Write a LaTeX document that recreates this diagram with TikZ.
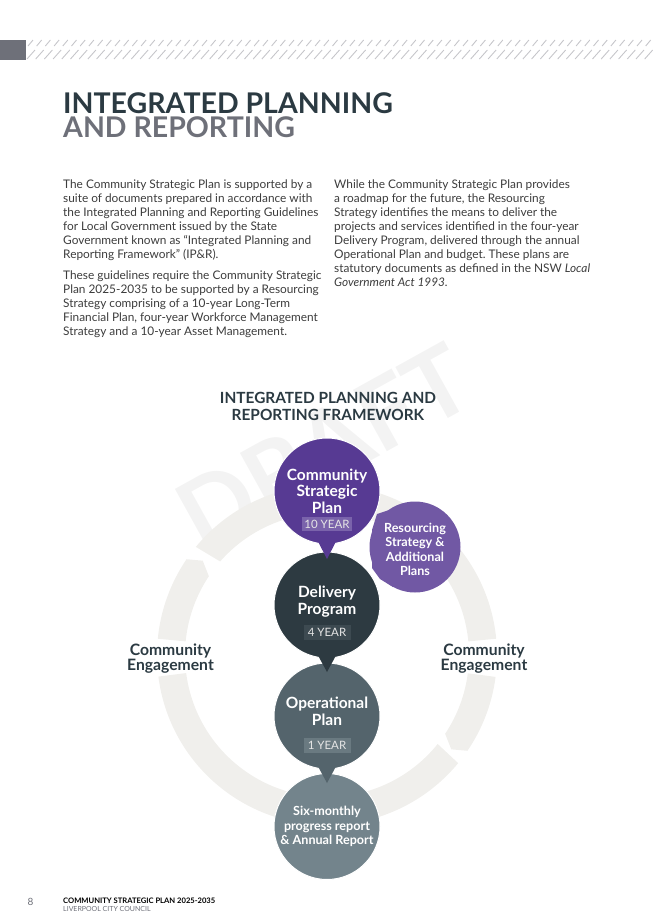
\documentclass[tikz,border=0pt]{standalone}
\usepackage{fontspec}
\setmainfont{Lato}
\frenchspacing
\usetikzlibrary{calc}
\definecolor{inkdark}{HTML}{2B3A42}
\definecolor{inkgrey}{HTML}{6E7079}
\definecolor{bodyink}{HTML}{3C3C3C}
\definecolor{ringc}{HTML}{F0EFEC}
\definecolor{wmark}{HTML}{F3F3F3}
\definecolor{stripec}{HTML}{C6C6CA}
\definecolor{cspc}{HTML}{573A93}
\definecolor{cspt}{HTML}{7A63AB}
\definecolor{resc}{HTML}{7158A4}
\definecolor{delc}{HTML}{2D3A41}
\definecolor{delt}{HTML}{3D4A51}
\definecolor{opc}{HTML}{54646C}
\definecolor{opt}{HTML}{6A7A81}
\definecolor{sixc}{HTML}{73848C}
\tikzset{
  bubble/.style={circle,minimum size=106pt,inner sep=0pt,draw=white,line width=1pt},
  bubbletext/.style={text=white,align=center,font=\fontsize{15.5}{16.6}\selectfont\bfseries,inner sep=0pt},
  smalltext/.style={text=white,align=center,font=\fontsize{12.6}{14.4}\selectfont\bfseries,inner sep=0pt},
  tagbox/.style={minimum width=47pt,minimum height=15pt,inner sep=0pt,text=white!90!black,font=\fontsize{11.5}{12}\selectfont},
  bodytext/.style={anchor=north west,align=left,inner sep=0pt,text=bodyink,font=\fontsize{11.85}{14}\selectfont},
  engage/.style={text=inkdark,align=center,inner sep=0pt,font=\fontsize{15.7}{15.6}\selectfont\bfseries},
}
\begin{document}
\begin{tikzpicture}[x=1pt,y=-1pt]
\useasboundingbox (0,0) rectangle (653,924);
% header band
\fill[inkgrey] (0,39.5) rectangle (25.5,59.5);
\foreach \i in {0,...,71}{
  \draw[stripec,line width=0.9pt] ({28+8.7*\i},46) -- ({33+8.7*\i},40);
  \draw[stripec,line width=0.9pt] ({27+8.7*\i},59) -- ({35+8.7*\i},50);
}
% title
\node[anchor=base west,inner sep=0pt,text=inkdark,font=\fontsize{28.5}{30}\selectfont\bfseries] (t1) at (63,113) {INTEGRATED PLANNING};
\node[anchor=base west,inner sep=0pt,text=inkgrey,font=\fontsize{28.5}{30}\selectfont\bfseries] (t2) at (63,137) {AND REPORTING};
% body
\node[bodytext] (b1) at (63,180) {The Community Strategic Plan is supported by a\\suite of documents prepared in accordance with\\the Integrated Planning and Reporting Guidelines\\for Local Government issued by the State\\Government known as “Integrated Planning and\\Reporting Framework” (IP\&R).};
\node[bodytext] (b2) at (63,270.5) {These guidelines require the Community Strategic\\Plan 2025-2035 to be supported by a Resourcing\\Strategy comprising of a 10-year Long-Term\\Financial Plan, four-year Workforce Management\\Strategy and a 10-year Asset Management.};
\node[bodytext] (b3) at (334,180) {While the Community Strategic Plan provides\\a roadmap for the future, the Resourcing\\Strategy identifies the means to deliver the\\projects and services identified in the four-year\\Delivery Program, delivered through the annual\\Operational Plan and budget. These plans are\\statutory documents as defined in the NSW \textit{Local}\\\textit{Government Act 1993.}};
% watermark
\node[rotate=29,text=wmark,inner sep=0pt,font=\fontsize{97}{97}\selectfont\bfseries] (wm) at (324,447) {DRAFT};
% ring
\begin{scope}[shift={(327,655)},ringc]
  \fill (-140.5:170) arc[start angle=-140.5,end angle=-5.5,radius=170] -- (-5.5:142) arc[start angle=-5.5,end angle=-138.8,radius=142] -- cycle;
  \fill (-174.5:170) arc[start angle=-174.5,end angle=-145.7,radius=170] -- (-142.8:156) -- (-146.3:142) arc[start angle=-146.3,end angle=-174.5,radius=142] -- cycle;
  \fill (172.7:170) arc[start angle=172.7,end angle=39.5,radius=170] -- (38.8:142) arc[start angle=38.8,end angle=172.7,radius=142] -- cycle;
  \fill (7.4:170) arc[start angle=7.4,end angle=34.3,radius=170] -- (37.2:156) -- (33.7:142) arc[start angle=33.7,end angle=7.4,radius=142] -- cycle;
\end{scope}
% heading
\node[text=inkdark,align=center,inner sep=0pt,font=\fontsize{15.4}{17}\selectfont\bfseries] (head) at (328,406) {INTEGRATED PLANNING AND\\REPORTING FRAMEWORK};
% engagement labels
\node[engage] (eng1) at (170.5,658.5) {Community\\Engagement};
\node[engage] (eng2) at (484,658.5) {Community\\Engagement};
% resourcing bubble
\node[circle,minimum size=91pt,inner sep=0pt,fill=resc] (res) at (415,547) {};
\fill[resc] ($(res.center)+(-26,-37)$) -- ++(-12,4) -- (372,530) -- (372,568) -- (380,579) -- ($(res.center)+(-22,40)$) -- cycle;
% stacked bubbles, lowest first
\node[bubble,fill=sixc] (six) at (327,826.5) {};
\node[bubble,fill=opc] (op) at (327,716) {};
\fill[opc] ($(op.south)+(-9.5,-4)$) -- ($(op.south)+(0,13.5)$) -- ($(op.south)+(9.5,-4)$) -- cycle;
\node[bubble,fill=delc] (del) at (327,605) {};
\fill[delc] ($(del.south)+(-9.5,-4)$) -- ($(del.south)+(0,13.5)$) -- ($(del.south)+(9.5,-4)$) -- cycle;
\node[bubble,fill=cspc] (csp) at (327,491) {};
\fill[cspc] ($(csp.south)+(-9.5,-4)$) -- ($(csp.south)+(0,14.5)$) -- ($(csp.south)+(9.5,-4)$) -- cycle;
% bubble texts
\node[bubbletext] (csptxt) at (327,491) {Community\\Strategic\\Plan};
\node[tagbox,fill=cspt,minimum width=50pt,minimum height=14pt] (csptag) at (327,524) {10 YEAR};
\node[smalltext] (restxt) at (415,549.5) {Resourcing\\Strategy \&\\Additional\\Plans};
\node[bubbletext] (deltxt) at (327,601.5) {Delivery\\Program};
\node[tagbox,fill=delt] (deltag) at (327,632.5) {4 YEAR};
\node[bubbletext] (optxt) at (327,711.5) {Operational\\Plan};
\node[tagbox,fill=opt] (optag) at (327,745.5) {1 YEAR};
\node[smalltext] (sixtxt) at (327,826.5) {Six-monthly\\progress report\\\& Annual Report};
% footer
\node[anchor=base,inner sep=0pt,text=inkgrey,font=\fontsize{10}{10}\selectfont] (pg) at (30.5,905) {8};
\node[anchor=base west,inner sep=0pt,text=black,font=\fontsize{7.6}{8}\selectfont\bfseries] (f1) at (63,903) {COMMUNITY STRATEGIC PLAN 2025-2035};
\node[anchor=base west,inner sep=0pt,text=inkgrey,font=\fontsize{7}{8}\selectfont] (f2) at (63,911) {LIVERPOOL CITY COUNCIL};
\end{tikzpicture}
\end{document}
